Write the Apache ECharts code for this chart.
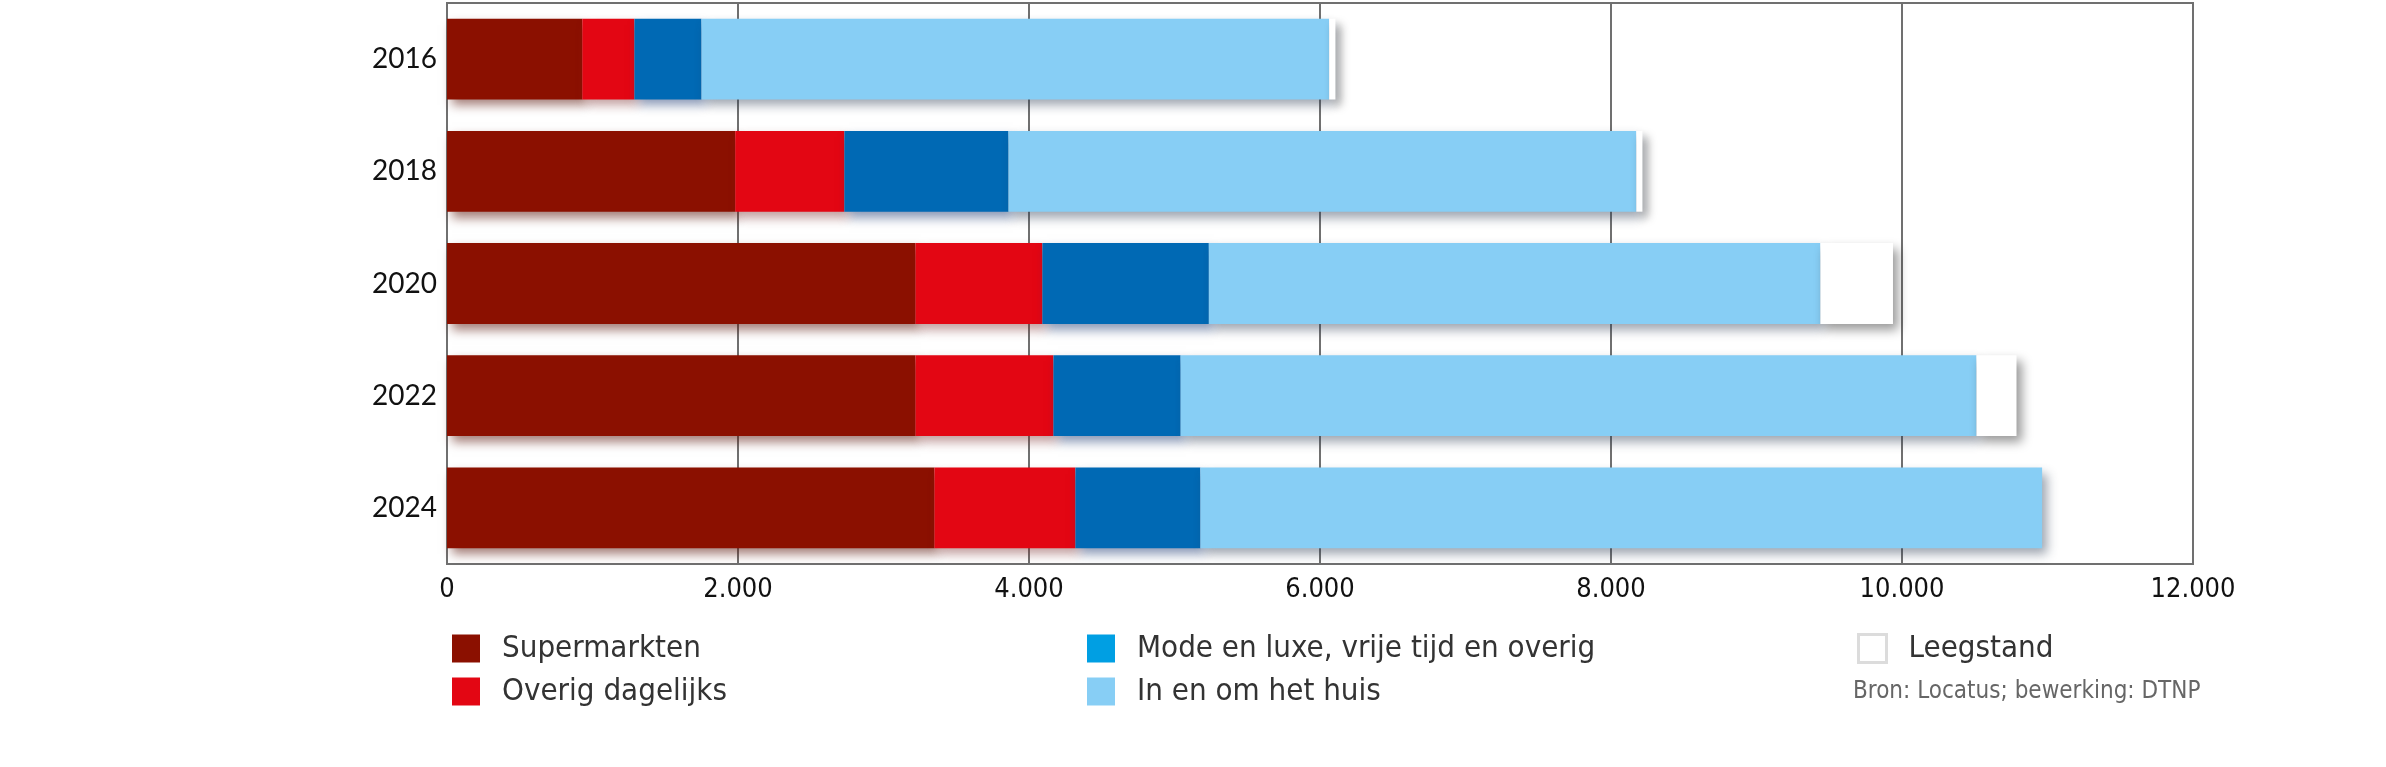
<!DOCTYPE html>
<html>
<head>
<meta charset="utf-8">
<script src="https://cdn.jsdelivr.net/npm/echarts@6/dist/echarts.min.js"></script>
<style>
  html, body { margin: 0; padding: 0; background: #fff; }
  #chart { width: 2386px; height: 767px; }
</style>
</head>
<body>
<div id="chart"></div>
<script>
// jaren (categorieën)
const years = ["2016", "2018", "2020", "2022", "2024"];
const supermarkten = [930, 1981, 3220, 3220, 3350];
const overigDagelijks = [358, 750, 872, 948, 969];
const modeLuxe = [461, 1128, 1144, 874, 859];
const inOmHuis = [4314, 4315, 4203, 5470, 5785];
const leegstand = [43, 42, 499, 275, 0];
const xTicks = [0, 2000, 4000, 6000, 8000, 10000, 12000];

const font = "'DejaVu Sans Condensed', 'DejaVu Sans', sans-serif";

function barSeries(name, data, color, shadow) {
  return {
    name: name,
    type: "bar",
    stack: "totaal",
    data: data,
    barCategoryGap: "28%",
    itemStyle: {
      color: color,
      shadowBlur: 10,
      shadowOffsetX: 5,
      shadowOffsetY: 6,
      shadowColor: shadow
    },
    emphasis: { disabled: true }
  };
}

function legendItem(name, style) {
  return { name: name, itemStyle: style };
}

const legendBase = {
  orient: "vertical",
  icon: "rect",
  padding: 0,
  itemWidth: 28,
  itemHeight: 28,
  itemGap: 12,
  top: 633,
  selectedMode: false,
  itemStyle: { shadowBlur: 0, shadowColor: "transparent", shadowOffsetX: 0, shadowOffsetY: 0 },
  textStyle: {
    fontFamily: font,
    fontSize: 31,
    lineHeight: 28,
    color: "#333",
    padding: [0, 0, 0, 17]
  }
};

const myChart = echarts.init(document.getElementById("chart"));
const option = {
  animation: false,
  grid: {
    left: 447,
    top: 3,
    right: 193,
    bottom: 203,
    show: true,
    borderColor: "#707070",
    borderWidth: 2,
    backgroundColor: "transparent"
  },
  xAxis: {
    type: "value",
    min: xTicks[0],
    max: xTicks[xTicks.length - 1],
    interval: 2000,
    axisLine: { show: false },
    axisTick: { show: false },
    splitLine: { show: true, lineStyle: { color: "#707070", width: 2 } },
    axisLabel: {
      margin: 12,
      fontFamily: font,
      fontSize: 27,
      color: "#111",
      formatter: v => (v >= 1000 ? Math.floor(v / 1000) + ".000" : String(v))
    }
  },
  yAxis: {
    type: "category",
    inverse: true,
    data: years,
    axisLine: { show: false },
    axisTick: { show: false },
    splitLine: { show: false },
    axisLabel: {
      margin: 10,
      fontFamily: "Lato, 'Open Sans', sans-serif",
      fontSize: 28,
      color: "#111"
    }
  },
  legend: [
    Object.assign({}, legendBase, {
      left: 452,
      data: [
        legendItem("Supermarkten", { color: "#8B1000" }),
        legendItem("Overig dagelijks", { color: "#E30613" })
      ]
    }),
    Object.assign({}, legendBase, {
      left: 1087,
      data: [
        legendItem("Mode en luxe, vrije tijd en overig", { color: "#009FE3" }),
        legendItem("In en om het huis", { color: "#87CEF5" })
      ]
    }),
    Object.assign({}, legendBase, {
      left: 1857,
      data: [
        legendItem("Leegstand", { color: "#ffffff", borderColor: "#dcdcdc", borderWidth: 3 })
      ]
    })
  ],
  title: {
    text: "Bron: Locatus; bewerking: DTNP",
    left: 1853,
    top: 680,
    padding: 0,
    textStyle: {
      fontFamily: font,
      fontSize: 24,
      fontWeight: "normal",
      color: "#666"
    }
  },
  series: [
    barSeries("Supermarkten", supermarkten, "#8B1000", "rgba(90,20,10,0.55)"),
    barSeries("Overig dagelijks", overigDagelijks, "#E30613", "rgba(120,40,40,0.45)"),
    barSeries("Mode en luxe, vrije tijd en overig", modeLuxe, "#0069B4", "rgba(20,50,110,0.5)"),
    barSeries("In en om het huis", inOmHuis, "#87CEF5", "rgba(40,55,80,0.45)"),
    barSeries("Leegstand", leegstand, "#ffffff", "rgba(0,0,0,0.4)")
  ]
};
myChart.setOption(option);
window.addEventListener("resize", () => {
  myChart.resize();
});
</script>
</body>
</html>
